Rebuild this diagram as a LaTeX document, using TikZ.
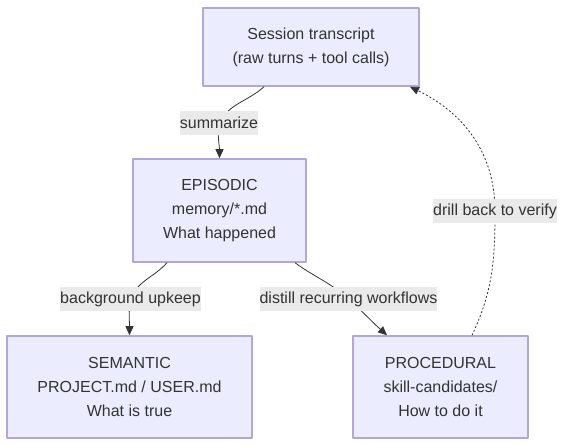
\documentclass[tikz,border=0pt]{standalone}
\usepackage{fontspec}
\setmainfont{Liberation Sans}
\usetikzlibrary{arrows.meta}
\definecolor{boxfill}{HTML}{ECECFF}
\definecolor{boxline}{HTML}{B3A6DB}
\definecolor{lblfill}{HTML}{EAEAEA}
\definecolor{ink}{HTML}{333333}
\begin{document}
\begin{tikzpicture}[x=1pt,y=1pt,font=\fontsize{16}{24}\selectfont,line join=round,>={Triangle[length=9pt,width=8pt]},
	mem/.style={draw=boxline,fill=boxfill,line width=1.5pt,align=center,text=ink,minimum height=102pt,inner sep=0pt},
	lbl/.style={fill=lblfill,text=ink,inner xsep=0pt,inner ysep=0pt,minimum height=24pt},
	edge/.style={->,draw=ink,line width=0.8pt}]
	\useasboundingbox (0,0) rectangle (565,446);
	\node[mem,minimum width=216pt,minimum height=78pt] (sess) at (311,399) {Session transcript\\(raw turns + tool calls)};
	\node[mem,minimum width=173pt,minimum height=103pt] (epi) at (219.5,235.5) {EPISODIC\\memory/*.md\\What happened};
	\node[mem,minimum width=245pt] (sem) at (129.5,59) {SEMANTIC\\PROJECT.md / USER.md\\What is true};
	\node[mem,minimum width=175pt] (proc) at (440.5,59) {PROCEDURAL\\skill-candidates/\\How to do it};
	\coordinate (summ) at (219,323);\coordinate (upk) at (130.5,147);\coordinate (dist) at (348.5,147);\coordinate (drill) at (495,235);
	\draw[edge] ([xshift=-47pt]sess.south) to[out=-138,in=62] (summ) to[out=-98,in=90] (epi.north);
	\draw[edge] ([xshift=-52.5pt]epi.south) to[out=-132,in=68] (upk) to[out=-98,in=90] (sem.north);
	\draw[edge] ([xshift=75.5pt]epi.south) to[out=-36,in=138] (dist) to[out=-42,in=138] ([xshift=-53.5pt]proc.north);
	\draw[edge,dash pattern=on 2pt off 2pt] ([xshift=31.5pt]proc.north) to[out=65,in=-90] (drill) to[out=90,in=-26] ([xshift=99pt]sess.south);
	\node[lbl] (summl) at (summ) {summarize};
	\node[lbl] (upkl) at (upk) {background upkeep};
	\node[lbl] (distl) at (dist) {distill recurring workflows};
	\node[lbl] (drilll) at (drill) {drill back to verify};
\end{tikzpicture}
\end{document}
